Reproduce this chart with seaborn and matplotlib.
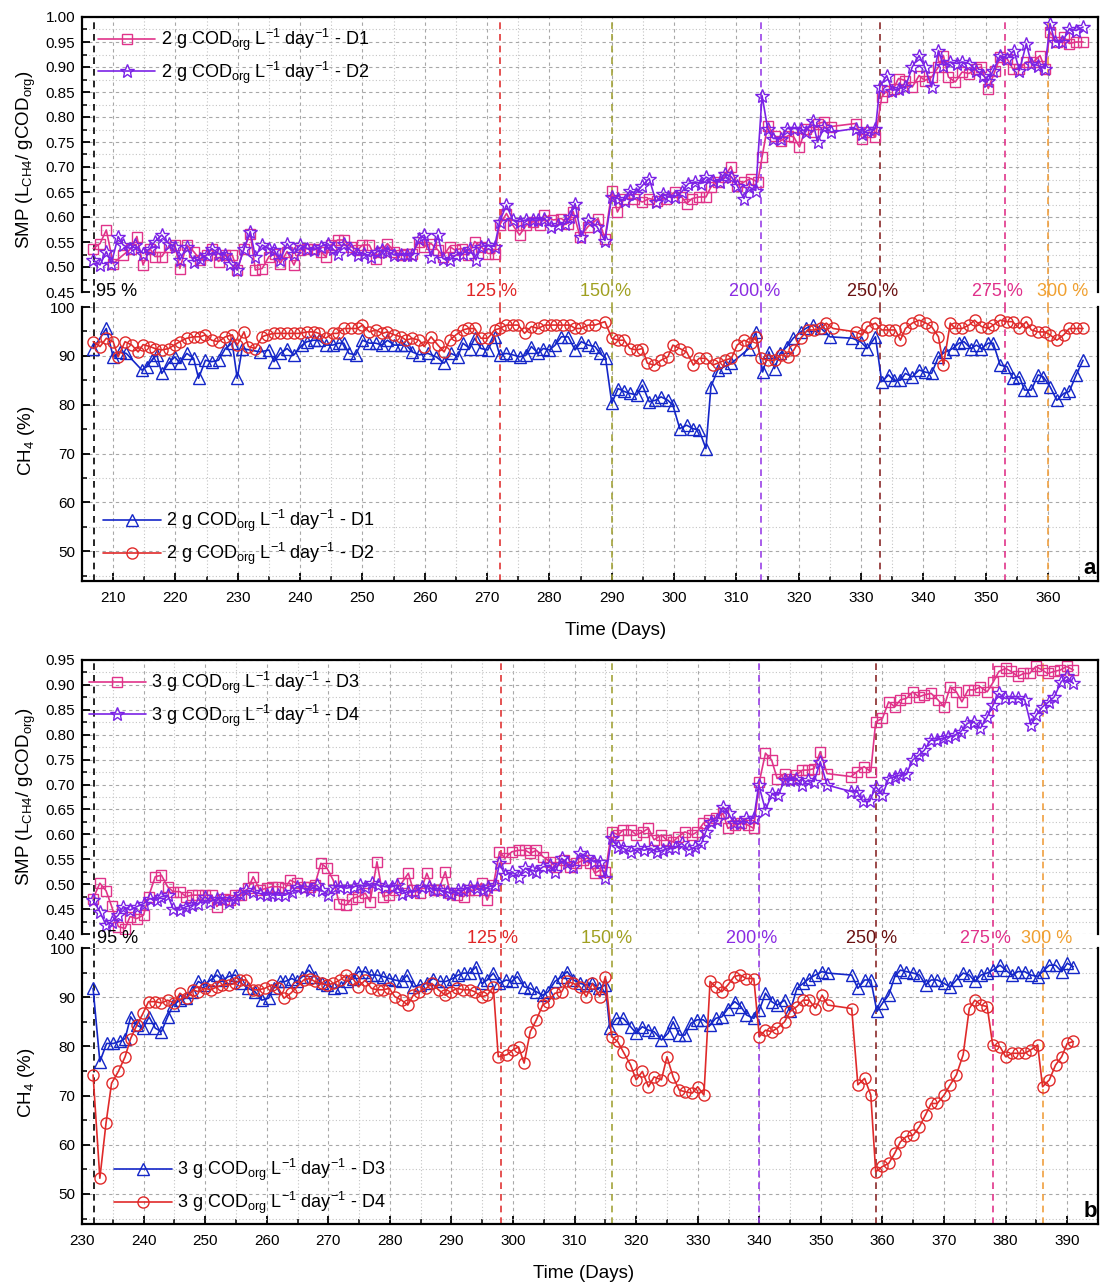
import numpy as np
import pandas as pd
import matplotlib
matplotlib.use('Agg')
import matplotlib.pyplot as plt
import matplotlib.transforms as mtransforms
from matplotlib.ticker import MultipleLocator, FormatStrFormatter
import seaborn as sns

# ---------------- DATA (day, value) ----------------
# Panel a - SMP
smp_a_d1 = [(206.8,.537),(207.9,.547),(208.9,.574),(210.0,.507),(211.6,.524),(212.9,.537),(213.8,.561),(214.8,.504),
 (215.9,.537),(216.7,.521),(217.8,.521),(218.9,.541),(219.9,.544),(220.7,.497),(221.8,.544),(222.9,.531),(224.0,.514),
 (225.0,.524),(225.8,.537),(226.9,.511),(228.0,.524),(229.1,.524),(229.9,.494),(231.0,.537),(232.0,.567),(232.8,.494),
 (233.9,.497),(235.0,.521),(236.0,.527),(236.8,.507),(237.9,.531),(239.0,.504),(240.0,.534),(241.1,.537),(242.2,.537),
 (243.3,.531),(244.1,.521),(244.9,.544),(246.0,.554),(247.0,.554),(248.1,.541),(249.2,.534),(250.0,.544),(251.1,.544),
 (252.1,.517),(253.0,.531),(254.0,.547),(255.1,.531),(256.2,.524),(257.0,.527),(258.0,.527),(259.1,.551),(259.9,.541),
 (261.0,.547),(262.1,.534),(262.9,.521),(264.0,.541),(264.8,.534),(265.9,.537),(267.0,.524),(268.0,.551),(269.0,.541),
 (270.1,.527),(271.2,.527),(272.0,.584),(273.1,.607),(274.1,.584),(275.2,.564),(276.3,.584),(277.4,.591),(278.4,.584),
 (279.2,.604),(280.6,.594),(281.9,.597),(283.0,.587),(283.8,.611),(284.9,.561),(286.2,.581),(287.8,.597),(288.9,.557),
 (290.0,.652),(290.9,.610),(292.0,.637),(293.5,.637),(294.9,.630),(296.0,.637),(297.3,.633),(298.7,.637),(300.1,.650),
 (301.2,.640),(302.0,.627),(302.9,.637),(304.0,.640),(305.1,.640),(305.9,.660),(307.0,.670),(308.1,.680),(309.1,.701),
 (310.1,.663),(311.2,.670),(312.3,.677),(313.4,.670),(314.1,.720),(315.0,.783),(316.1,.763),(317.2,.753),(318.3,.763),
 (319.2,.760),(320.1,.740),(321.1,.777),(322.2,.770),(323.0,.787),(324.1,.790),(325.2,.781),(329.1,.787),(330.2,.757),
 (331.3,.770),(332.3,.760),(333.3,.840),(334.1,.853),(335.2,.857),(336.0,.877),(337.1,.873),(338.2,.860),(339.3,.883),
 (340.2,.873),(341.3,.880),(342.4,.900),(343.2,.923),(344.0,.880),(345.1,.870),(346.2,.890),(347.3,.887),(348.5,.897),
 (349.3,.900),(350.4,.857),(351.5,.893),(352.3,.920),(353.4,.917),(354.3,.897),(355.4,.897),(356.5,.910),(357.6,.910),
 (358.7,.923),(359.5,.897),(360.3,.970),(361.4,.950),(362.5,.960),(363.4,.947),(364.5,.950),(365.6,.950)]

smp_a_d2 = [(206.8,.514),(207.9,.504),(208.9,.531),(209.7,.507),(210.8,.561),(211.6,.544),(212.7,.537),(213.5,.544),
 (214.8,.527),(215.9,.537),(216.7,.551),(217.8,.564),(218.9,.547),(219.9,.541),(220.7,.514),(221.8,.541),(222.9,.511),
 (224.0,.517),(225.0,.524),(225.8,.537),(226.9,.527),(228.0,.524),(228.8,.507),(229.9,.494),(231.0,.537),(232.0,.571),
 (232.8,.521),(233.9,.544),(235.0,.537),(235.8,.534),(236.8,.514),(237.9,.547),(239.0,.527),(240.0,.544),(241.1,.537),
 (242.2,.534),(243.3,.541),(244.4,.547),(245.2,.537),(246.0,.527),(247.0,.547),(248.1,.534),(249.2,.524),(250.3,.527),
 (251.3,.521),(252.4,.531),(253.2,.534),(254.0,.531),(255.1,.524),(256.2,.524),(257.2,.524),(258.0,.524),(259.1,.557),
 (259.9,.564),(261.0,.521),(262.1,.564),(262.9,.517),(264.0,.514),(265.0,.524),(266.1,.527),(267.2,.537),(268.2,.514),
 (269.0,.541),(270.1,.544),(271.2,.541),(272.0,.591),(273.1,.624),(274.1,.594),(275.2,.591),(276.3,.594),(277.4,.594),
 (278.2,.594),(279.2,.597),(280.3,.581),(281.4,.584),(282.5,.587),(283.3,.601),(284.1,.627),(285.1,.561),(286.2,.594),
 (287.6,.581),(288.9,.553),(290.0,.640),(291.0,.637),(292.1,.633),(292.9,.653),(293.8,.647),(294.9,.663),(296.0,.677),
 (297.1,.630),(298.2,.647),(299.0,.640),(300.1,.640),(301.2,.650),(302.3,.667),(303.4,.670),(304.3,.667),(305.1,.680),
 (306.2,.673),(307.3,.670),(308.1,.687),(309.2,.680),(310.1,.663),(311.2,.637),(312.0,.660),(313.1,.653),(314.1,.843),
 (315.0,.777),(315.9,.757),(317.2,.757),(318.1,.777),(319.2,.777),(320.3,.777),(321.1,.770),(322.2,.793),(323.0,.750),
 (324.1,.780),(325.2,.770),(329.1,.777),(330.2,.767),(331.0,.773),(332.3,.777),(333.0,.860),(334.1,.883),(335.0,.853),
 (336.0,.857),(337.1,.860),(338.2,.900),(339.3,.923),(340.2,.900),(341.3,.860),(342.4,.933),(343.2,.903),(344.3,.910),
 (345.4,.907),(346.2,.910),(347.3,.907),(348.5,.893),(349.6,.883),(350.4,.873),(351.2,.893),(352.3,.923),(353.4,.917),
 (354.5,.933),(355.4,.893),(356.5,.947),(357.3,.907),(358.4,.903),(359.5,.897),(360.3,.987),(361.1,.950),(362.3,.950),
 (363.4,.977),(364.5,.973),(365.6,.980)]

# Panel a - CH4
ch4_a_d1 = [(206.8,91.5),(208.9,95.6),(210.0,89.8),(211.1,90.8),(212.1,90.5),(214.6,87.1),(215.4,87.8),(216.2,89.1),
 (217.0,90.2),(217.8,86.4),(218.9,88.5),(219.9,89.8),(220.7,88.5),(221.8,90.5),(222.9,89.5),(223.7,85.4),(224.8,89.1),
 (225.8,88.8),(226.9,89.1),(228.0,91.5),(229.1,92.6),(229.9,85.4),(230.7,91.5),(233.6,90.8),(235.0,91.2),(235.8,88.8),
 (236.8,90.5),(237.9,91.5),(239.0,90.2),(240.3,92.2),(241.1,92.9),(242.2,93.2),(243.0,93.2),(244.1,92.2),(245.2,92.2),
 (246.2,92.6),(247.0,92.6),(247.8,90.5),(248.9,90.2),(250.0,93.2),(251.1,92.6),(252.1,92.6),(253.2,92.2),(254.0,93.2),
 (255.1,92.2),(256.2,92.2),(257.0,92.2),(258.0,90.8),(259.1,90.2),(260.5,90.5),(261.8,89.8),(263.1,88.5),(264.2,90.5),
 (265.3,89.8),(266.1,92.6),(267.2,91.5),(268.0,93.6),(269.0,91.5),(270.1,91.2),(271.2,93.9),(272.0,90.2),(273.1,90.5),
 (274.1,90.2),(275.2,89.8),(276.3,90.2),(277.1,91.9),(278.2,90.5),(279.0,91.5),(280.0,91.2),(280.9,92.2),(281.9,93.9),
 (283.0,93.9),(284.1,91.2),(285.1,92.9),(286.2,92.2),(287.3,91.9),(288.1,90.5),(289.0,89.5),(290.0,80.3),(291.0,83.3),
 (292.0,82.7),(292.9,82.3),(294.0,82.0),(294.9,84.0),(296.0,80.6),(297.0,80.9),(297.9,81.6),(299.0,80.9),(299.8,79.9),
 (300.9,75.1),(302.0,75.8),(303.0,75.1),(304.0,74.8),(305.1,71.0),(305.9,83.7),(307.0,87.1),(308.1,87.8),(309.2,88.5),
 (312.0,91.5),(313.1,94.9),(314.2,86.7),(315.2,90.8),(316.1,87.4),(317.0,90.5),(318.1,91.9),(319.1,93.6),(320.3,94.9),
 (321.1,95.6),(322.2,96.3),(323.6,95.6),(325.0,93.9),(328.6,93.6),(329.9,92.9),(331.0,91.5),(332.3,93.9),(333.3,84.7),
 (334.4,86.1),(335.2,85.0),(336.3,85.0),(337.1,86.4),(338.2,85.7),(339.3,87.1),(340.2,86.7),(341.3,86.4),(342.4,89.8),
 (343.5,90.8),(344.7,91.5),(345.7,92.6),(346.5,92.9),(347.6,91.5),(348.5,92.2),(349.3,91.5),(350.4,92.6),(351.2,92.6),
 (352.3,88.1),(353.4,87.8),(354.3,85.4),(355.4,85.7),(356.2,83.0),(357.3,83.0),(358.4,86.1),(359.2,85.7),(360.3,83.7),
 (361.4,80.9),(362.5,82.3),(363.4,82.7),(364.5,86.1),(365.6,89.1)]

ch4_a_d2 = [(206.8,92.9),(207.9,91.9),(208.9,93.6),(210.0,92.9),(210.8,89.8),(211.9,92.9),(213.0,92.2),(214.0,90.8),
 (214.8,92.3),(215.9,91.9),(216.7,91.5),(217.8,91.2),(218.9,91.5),(219.9,92.3),(220.7,92.9),(221.8,93.6),(222.9,93.9),
 (224.0,93.9),(224.8,94.3),(225.8,93.2),(226.9,92.9),(228.0,93.9),(229.1,94.3),(229.9,92.2),(231.0,94.9),(231.7,91.9),
 (232.8,91.5),(233.9,93.9),(234.7,94.3),(235.8,94.6),(236.8,94.6),(237.9,94.6),(239.0,94.6),(240.0,94.6),(241.1,94.9),
 (242.2,94.9),(243.0,94.6),(244.1,93.6),(245.2,94.6),(246.0,94.6),(247.0,95.6),(248.1,95.6),(249.2,95.6),(250.0,96.3),
 (251.1,94.9),(252.1,95.3),(253.2,94.6),(254.0,94.9),(255.1,94.3),(256.2,93.9),(257.0,93.2),(258.0,93.6),(259.1,93.2),
 (259.9,91.9),(261.0,93.9),(262.1,92.2),(263.1,90.8),(264.0,93.2),(265.0,94.3),(266.1,95.3),(267.0,95.6),(268.0,95.6),
 (269.0,93.6),(270.1,93.6),(271.2,95.3),(272.0,95.6),(273.1,96.3),(274.1,96.3),(275.0,96.3),(276.0,94.6),(277.1,96.0),
 (278.2,95.6),(279.2,96.3),(280.3,96.3),(281.1,96.3),(282.2,96.3),(283.3,96.3),(284.1,95.6),(285.1,95.6),(286.2,96.3),
 (287.3,96.3),(288.9,97.0),(290.0,93.6),(291.0,93.2),(292.0,93.2),(292.9,91.5),(294.0,91.2),(294.9,91.5),(295.7,88.5),
 (296.8,88.1),(297.9,89.1),(299.0,89.8),(299.8,92.2),(300.9,91.5),(302.0,90.8),(303.1,88.1),(304.0,89.5),(305.1,89.5),
 (306.2,88.1),(307.0,88.5),(308.1,89.1),(309.2,89.5),(310.1,92.2),(311.2,93.2),(312.3,92.6),(313.1,93.9),(313.9,89.5),
 (315.0,89.1),(316.1,89.1),(317.2,90.2),(318.3,89.8),(319.2,91.2),(320.3,93.6),(321.4,95.3),(322.5,95.3),(323.6,95.6),
 (324.4,96.7),(325.5,95.6),(329.1,94.9),(330.2,94.3),(331.0,96.0),(332.3,96.7),(333.3,95.3),(334.4,95.3),(335.5,95.3),
 (336.3,93.2),(337.1,95.6),(338.2,96.7),(339.3,97.3),(340.4,96.7),(341.3,96.0),(342.4,93.9),(343.2,88.1),(344.3,96.7),
 (345.1,95.6),(346.2,95.6),(347.3,96.3),(348.2,97.3),(349.3,96.0),(350.4,95.6),(351.2,96.3),(352.3,97.3),(353.4,97.0),
 (354.3,97.0),(355.4,95.6),(356.5,97.0),(357.3,95.3),(358.4,94.9),(359.5,94.9),(360.3,94.3),(361.4,93.2),(362.5,94.3),
 (363.4,95.6),(364.5,95.6),(365.6,95.6)]

# Panel b - SMP
smp_b_d3 = [(231.8,.471),(232.9,.502),(233.9,.487),(234.8,.456),(235.9,.415),(237.0,.411),(237.8,.435),(238.9,.431),
 (240.0,.438),(240.8,.475),(241.9,.515),(242.9,.518),(243.9,.495),(244.8,.485),(245.9,.485),(246.9,.475),(247.8,.478),
 (248.9,.478),(250.0,.478),(251.1,.478),(251.9,.455),(253.0,.471),(254.0,.468),(254.9,.478),(255.9,.478),(257.0,.492),
 (257.8,.515),(258.9,.488),(260.0,.492),(260.8,.495),(261.9,.495),(263.0,.492),(263.8,.508),(264.9,.502),(266.0,.495),
 (267.0,.495),(267.8,.498),(268.8,.542),(269.8,.532),(270.8,.508),(271.8,.461),(272.9,.458),(273.8,.471),(274.9,.475),
 (276.0,.482),(276.8,.465),(277.9,.545),(278.9,.475),(279.8,.478),(280.8,.488),(281.9,.502),(283.0,.522),(283.8,.488),
 (284.9,.482),(286.0,.522),(287.1,.488),(287.9,.488),(289.0,.525),(289.8,.482),(290.9,.478),(292.0,.475),(292.8,.488),
 (293.9,.488),(294.9,.502),(295.8,.468),(296.8,.498),(297.8,.565),(298.7,.552),(299.8,.565),(300.9,.568),(302.0,.568),
 (302.8,.562),(303.8,.568),(304.9,.555),(306.0,.545),(307.0,.535),(308.2,.548),(309.3,.535),(310.3,.542),(311.4,.548),
 (312.5,.542),(313.3,.522),(314.1,.528),(315.0,.525),(316.0,.605),(317.1,.599),(317.9,.609),(319.1,.609),(320.0,.599),
 (321.1,.605),(322.0,.612),(322.9,.589),(324.1,.599),(324.9,.589),(326.0,.585),(326.8,.595),(327.9,.605),(329.1,.599),
 (329.9,.605),(330.9,.622),(331.8,.629),(332.9,.632),(334.1,.642),(334.9,.612),(336.0,.619),(337.1,.622),(338.1,.619),
 (339.1,.612),(340.0,.706),(341.0,.763),(342.0,.749),(342.9,.712),(344.1,.722),(345.0,.712),(346.0,.719),(347.0,.729),
 (347.9,.729),(348.9,.732),(349.9,.766),(351.0,.722),(354.9,.716),(355.9,.726),(357.0,.736),(358.1,.726),(358.9,.826),
 (360.0,.833),(361.0,.866),(362.0,.856),(362.9,.870),(363.9,.873),(364.9,.886),(365.9,.876),(366.8,.880),(367.9,.883),
 (369.0,.870),(370.0,.856),(371.0,.896),(372.0,.886),(372.9,.866),(373.9,.890),(374.9,.890),(375.9,.896),(377.0,.886),
 (378.0,.906),(378.9,.927),(380.0,.933),(380.9,.927),(382.0,.917),(382.9,.923),(383.9,.923),(384.9,.937),(385.9,.930),
 (386.8,.923),(387.9,.927),(388.9,.930),(389.9,.937),(391.0,.930)]

smp_b_d4 = [(231.8,.468),(232.9,.445),(233.9,.418),(234.8,.425),(235.9,.438),(236.7,.455),(237.8,.448),(238.9,.455),
 (240.0,.461),(241.0,.471),(242.1,.468),(242.9,.475),(243.9,.478),(244.8,.451),(245.9,.448),(246.9,.455),(247.8,.458),
 (248.9,.461),(250.0,.475),(250.8,.465),(251.9,.471),(252.7,.471),(253.8,.465),(254.9,.471),(255.7,.481),(256.7,.488),
 (257.8,.485),(258.9,.481),(260.0,.478),(260.8,.481),(261.9,.478),(263.0,.478),(264.1,.485),(264.9,.495),(266.0,.492),
 (267.0,.488),(268.1,.498),(268.9,.488),(270.0,.478),(271.1,.495),(271.9,.495),(273.0,.492),(274.1,.495),(275.2,.498),
 (276.0,.495),(277.1,.502),(278.1,.498),(279.2,.495),(280.3,.495),(281.1,.498),(281.9,.481),(283.0,.485),(284.1,.485),
 (285.2,.495),(286.3,.495),(287.1,.488),(288.1,.488),(289.2,.485),(290.0,.481),(291.1,.488),(291.9,.488),(293.0,.495),
 (294.1,.492),(295.2,.488),(296.0,.495),(297.1,.498),(297.8,.542),(298.7,.518),(299.8,.525),(300.9,.515),(302.0,.532),
 (303.0,.528),(303.8,.525),(304.9,.535),(306.0,.538),(306.8,.525),(307.9,.552),(308.7,.542),(309.8,.535),(310.9,.562),
 (312.0,.555),(313.1,.545),(314.1,.545),(315.0,.512),(316.0,.592),(317.0,.575),(317.9,.572),(319.1,.565),(320.2,.572),
 (321.3,.568),(322.4,.572),(323.3,.565),(324.3,.568),(325.3,.572),(326.3,.572),(327.4,.582),(328.5,.568),(329.6,.575),
 (330.6,.582),(331.3,.605),(332.1,.625),(333.1,.629),(334.1,.655),(335.0,.642),(335.9,.622),(336.8,.622),(337.9,.632),
 (339.1,.632),(339.9,.699),(341.0,.649),(342.1,.682),(343.1,.679),(344.1,.709),(345.0,.709),(346.0,.712),(347.0,.699),
 (347.9,.709),(348.9,.706),(349.9,.746),(351.0,.699),(354.9,.686),(355.9,.686),(356.8,.666),(357.9,.666),(358.9,.696),
 (360.0,.679),(361.0,.712),(362.0,.716),(362.9,.719),(363.9,.722),(364.9,.749),(365.9,.759),(366.8,.769),(367.8,.789),
 (368.8,.789),(369.8,.793),(370.7,.796),(371.7,.799),(372.7,.806),(373.8,.823),(374.8,.826),(375.9,.813),(377.0,.836),
 (378.0,.860),(378.9,.883),(379.9,.873),(381.0,.873),(382.0,.873),(383.1,.870),(384.1,.820),(385.0,.840),(386.0,.856),
 (387.0,.866),(387.9,.876),(389.0,.906),(389.9,.917),(391.0,.903)]

# Panel b - CH4
ch4_b_d3 = [(231.8,91.8),(232.9,76.9),(234.0,80.6),(235.1,80.6),(236.1,81.0),(237.0,81.6),(237.9,86.0),(238.9,84.3),
 (239.9,83.7),(240.9,86.0),(241.9,83.7),(242.9,83.0),(243.9,86.0),(244.8,88.4),(245.9,89.4),(246.9,89.8),(247.8,91.1),
 (248.9,93.2),(249.8,92.5),(250.9,93.5),(251.9,94.5),(252.8,93.5),(253.8,94.2),(254.9,94.5),(255.9,92.8),(257.0,91.8),
 (258.1,91.1),(259.2,89.4),(260.3,89.8),(261.1,91.8),(262.2,93.2),(263.0,93.2),(264.1,93.8),(264.9,93.2),(265.8,94.2),
 (266.8,95.5),(267.8,94.2),(268.9,92.8),(269.8,92.5),(270.9,91.8),(272.0,92.1),(273.0,93.2),(274.0,93.8),(274.9,95.2),
 (276.0,95.2),(276.9,94.5),(277.9,94.5),(278.9,94.2),(279.9,93.8),(280.8,93.5),(281.9,93.2),(282.8,94.5),(283.8,92.1),
 (284.9,92.5),(286.0,92.8),(287.0,93.8),(288.1,93.2),(289.1,93.2),(290.2,93.8),(291.1,94.5),(292.0,94.9),(293.0,94.9),
 (294.0,96.2),(294.9,92.8),(295.8,93.5),(296.8,94.9),(297.8,92.8),(298.9,93.5),(299.8,93.2),(300.7,94.2),(301.8,92.1),
 (302.8,91.8),(303.8,91.1),(304.8,90.4),(305.7,91.1),(306.8,93.2),(307.9,94.2),(308.8,95.2),(309.8,93.5),(310.9,92.8),
 (311.9,92.5),(312.9,92.8),(313.9,91.8),(315.0,92.5),(315.7,83.7),(316.8,85.7),(317.9,85.7),(319.1,84.0),(320.0,82.7),
 (321.0,84.0),(322.0,83.3),(322.9,83.0),(324.1,81.3),(325.2,82.7),(326.0,85.0),(327.0,82.3),(327.9,82.3),(328.9,84.7),
 (329.9,85.4),(330.9,85.4),(332.0,84.3),(332.9,85.7),(333.9,86.0),(334.9,87.7),(336.0,89.1),(337.0,88.1),(337.9,86.4),
 (339.1,85.7),(340.0,87.4),(341.0,90.8),(342.0,89.1),(342.9,88.4),(344.1,89.4),(345.0,87.1),(346.1,91.8),(347.1,92.8),
 (348.1,93.8),(349.1,94.5),(350.2,95.2),(351.1,94.9),(355.0,94.5),(356.0,91.8),(357.1,93.5),(358.1,93.5),(359.1,87.1),
 (360.0,88.8),(361.0,90.4),(362.0,94.2),(362.9,95.5),(363.9,95.2),(365.0,94.9),(366.0,94.5),(367.0,92.5),(367.9,93.5),
 (368.9,93.5),(370.0,92.8),(371.0,92.1),(372.0,93.5),(373.1,94.9),(374.1,94.5),(375.0,93.2),(376.0,94.5),(377.0,94.9),
 (377.9,95.5),(379.1,96.5),(380.0,95.5),(381.0,94.5),(382.0,95.2),(383.1,95.2),(384.1,94.5),(385.2,94.2),(386.0,95.2),
 (387.1,96.5),(388.1,96.5),(389.1,95.2),(390.0,96.9),(391.0,96.2)]

ch4_b_d4 = [(231.8,74.2),(232.9,53.2),(233.9,64.4),(234.8,72.5),(235.9,74.9),(237.0,77.9),(237.9,81.6),(238.9,84.3),
 (239.9,86.7),(240.8,89.1),(241.9,89.1),(242.9,88.8),(243.9,89.4),(245.0,88.8),(245.9,90.8),(247.0,89.8),(248.0,91.5),
 (248.9,91.1),(250.0,91.8),(250.9,91.5),(251.9,92.1),(252.8,92.5),(253.8,92.5),(254.9,92.8),(255.7,93.5),(256.7,93.5),
 (257.8,91.5),(258.6,91.5),(259.7,91.8),(260.8,92.5),(261.9,91.8),(262.8,89.8),(263.9,90.8),(264.9,92.1),(266.0,93.5),
 (267.0,93.8),(267.8,93.2),(268.9,92.8),(269.8,92.5),(270.8,92.8),(271.9,93.5),(272.9,94.5),(274.0,93.8),(274.9,92.1),
 (276.0,93.5),(277.0,91.8),(278.0,91.5),(278.9,91.5),(279.9,91.8),(280.8,90.1),(281.9,89.4),(282.9,88.4),(283.8,90.4),
 (284.8,91.1),(285.9,91.8),(286.8,92.8),(287.9,91.5),(289.0,90.4),(289.9,91.1),(290.9,91.8),(291.9,91.5),(293.0,91.5),
 (293.8,91.1),(294.9,90.1),(295.8,90.4),(296.8,92.1),(297.6,77.9),(299.0,78.3),(300.0,79.3),(300.9,79.9),(301.8,76.6),
 (302.8,83.0),(303.8,85.4),(304.8,88.4),(305.7,89.1),(306.8,90.8),(307.9,91.1),(308.8,93.2),(309.8,92.8),(310.9,92.1),
 (311.9,90.1),(312.9,92.8),(314.1,90.1),(315.0,94.2),(316.0,82.0),(317.0,81.0),(317.9,78.9),(319.1,76.2),(320.0,73.2),
 (321.0,74.9),(322.0,71.8),(322.9,73.8),(324.1,73.2),(325.0,77.9),(326.0,73.8),(327.0,71.1),(327.9,70.8),(329.1,70.5),
 (330.0,71.8),(331.0,70.1),(332.0,93.2),(332.9,92.1),(333.9,91.1),(334.9,92.5),(335.9,94.2),(336.9,94.5),(337.9,93.8),
 (339.1,93.8),(340.0,82.0),(341.0,83.3),(342.0,83.0),(342.9,83.7),(344.1,85.0),(345.0,87.1),(346.1,88.1),(347.1,89.4),
 (348.1,89.4),(349.1,87.7),(350.2,90.4),(351.1,88.4),(355.0,87.7),(356.0,72.2),(357.1,73.5),(358.1,70.1),(358.9,54.5),
 (360.0,55.6),(361.0,56.2),(362.0,58.3),(362.9,60.6),(363.9,61.7),(365.0,62.0),(366.0,63.7),(367.0,66.1),(367.9,68.4),
 (368.9,68.4),(370.0,70.1),(371.0,72.2),(372.0,74.2),(373.1,78.3),(374.1,87.7),(375.0,89.4),(376.0,88.4),(377.0,88.1),
 (377.9,80.3),(379.1,79.9),(380.0,77.9),(381.0,78.6),(382.0,78.6),(383.1,78.6),(384.1,79.3),(385.2,80.3),(386.0,71.8),
 (387.1,73.2),(388.1,76.2),(389.1,77.9),(390.0,80.6),(391.0,81.0)]

# Loading-change markers
step_labels = ['95 %', '125 %', '150 %', '200 %', '250 %', '275 %', '300 %']
steps_a = [207, 272, 290, 314, 333, 353, 360]
steps_b = [232, 298, 316, 340, 359, 378, 386]

legend_a_smp = [r'2 g COD$_{org}$ L$^{-1}$ day$^{-1}$ - D1', r'2 g COD$_{org}$ L$^{-1}$ day$^{-1}$ - D2']
legend_a_ch4 = [r'2 g COD$_{org}$ L$^{-1}$ day$^{-1}$ - D1', r'2 g COD$_{org}$ L$^{-1}$ day$^{-1}$ - D2']
legend_b_smp = [r'3 g COD$_{org}$ L$^{-1}$ day$^{-1}$ - D3', r'3 g COD$_{org}$ L$^{-1}$ day$^{-1}$ - D4']
legend_b_ch4 = [r'3 g COD$_{org}$ L$^{-1}$ day$^{-1}$ - D3', r'3 g COD$_{org}$ L$^{-1}$ day$^{-1}$ - D4']

# ---------------- STYLE ----------------
sns.set_theme(style='white')
plt.rcParams['font.family'] = ['Liberation Sans', 'DejaVu Sans']
plt.rcParams['mathtext.fontset'] = 'custom'
plt.rcParams['mathtext.rm'] = 'Liberation Sans'
plt.rcParams['mathtext.it'] = 'Liberation Sans:italic'
plt.rcParams['mathtext.bf'] = 'Liberation Sans:bold'
plt.rcParams['mathtext.default'] = 'rm'
plt.rcParams['text.color'] = 'black'
plt.rcParams['axes.labelcolor'] = 'black'
plt.rcParams['xtick.color'] = 'black'
plt.rcParams['ytick.color'] = 'black'

step_line_colors = ['#000000', '#e03535', '#a3a33a', '#9a40e8', '#8a2a2a', '#e0358a', '#f0a040']
step_text_colors = ['#000000', '#e02525', '#a0a020', '#8a2be2', '#6a1010', '#e0308a', '#f0a030']
off_a = [0.3, -1.3, -1.0, -1.1, -1.1, -1.1, 2.3]
off_b = [0.5, -1.3, -0.8, -1.3, -0.8, -1.3, 0.6]

C_SQ = '#e0338a'
C_ST = '#7b22e6'
C_TR = '#1426c8'
C_CI = '#e02a2a'

W, H = 1116, 1283
fig = plt.figure(figsize=(W / 100, H / 100), dpi=100)


def ax_rect(top_px, bot_px, left_px=82, right_px=1098):
    return [left_px / W, 1 - bot_px / H, (right_px - left_px) / W, (bot_px - top_px) / H]


ax_a1 = fig.add_axes(ax_rect(17, 292))
ax_a2 = fig.add_axes(ax_rect(307, 581))
ax_b1 = fig.add_axes(ax_rect(660, 934))
ax_b2 = fig.add_axes(ax_rect(948, 1224))


def series(ax, pts, color, marker, ms, label):
    df = pd.DataFrame(pts, columns=['day', 'val'])
    sns.lineplot(data=df, x='day', y='val', ax=ax, color=color, marker=marker, markersize=ms,
                 markerfacecolor='none', markeredgecolor=color, markeredgewidth=1.0,
                 linewidth=1.2, label=label, estimator=None, sort=True)


def style(ax, is_top, xlim, ylim, ymaj, ymin, fmt):
    ax.set_xlim(*xlim)
    ax.set_ylim(*ylim)
    ax.xaxis.set_major_locator(MultipleLocator(10))
    ax.xaxis.set_minor_locator(MultipleLocator(5))
    ax.yaxis.set_major_locator(MultipleLocator(ymaj))
    ax.yaxis.set_minor_locator(MultipleLocator(ymin))
    ax.yaxis.set_major_formatter(FormatStrFormatter(fmt))
    ax.grid(which='major', linestyle=(0, (3, 3)), color='#a8a8a8', linewidth=0.8)
    ax.grid(which='minor', linestyle=(0, (1, 2)), color='#c4c4c4', linewidth=0.8)
    ax.set_axisbelow(True)
    ax.tick_params(which='both', direction='in', left=True, right=False, top=False,
                   bottom=not is_top, labelbottom=not is_top, colors='black')
    ax.tick_params(which='major', length=6, width=1.3, labelsize=11, pad=5)
    ax.tick_params(which='minor', length=3.5, width=1.1)
    ax.tick_params(axis='x', which='major', pad=7)
    for s in ax.spines.values():
        s.set_color('black')
        s.set_linewidth(1.6)
    if is_top:
        ax.spines['bottom'].set_visible(False)
    else:
        ax.spines['top'].set_visible(False)
    ax.set_xlabel('')
    ax.set_ylabel('')


def steps(ax_top, ax_bot, xs, offs, ytext):
    for x, c in zip(xs, step_line_colors):
        ax_top.axvline(x, ymin=-0.06, ymax=1, color=c, linestyle=(0, (4, 3)), linewidth=1.2,
                       clip_on=False, zorder=1.5)
        ax_bot.axvline(x, color=c, linestyle=(0, (4, 3)), linewidth=1.2, zorder=1.5)
    tr = mtransforms.blended_transform_factory(ax_top.transData, ax_top.transAxes)
    for i, (x, lab, tc, o) in enumerate(zip(xs, step_labels, step_text_colors, offs)):
        ha = 'left' if i == 0 else 'center'
        ax_top.text(x + o, ytext, lab, transform=tr, ha=ha, va='center', color=tc,
                    fontsize=13, clip_on=False, zorder=5)


leg_kw = dict(frameon=False, fontsize=13, handlelength=3.2, handletextpad=0.28,
              labelspacing=0.35, borderaxespad=0.3, labelcolor='black')
YL = 13.5

# ---------------- Panel a ----------------
series(ax_a1, smp_a_d1, C_SQ, 's', 7, legend_a_smp[0])
series(ax_a1, smp_a_d2, C_ST, '*', 10, legend_a_smp[1])
style(ax_a1, True, (205, 368), (0.45, 1.00), 0.05, 0.025, '%.2f')
ax_a1.legend(loc='upper left', bbox_to_anchor=(0.003, 1.01), **leg_kw)

series(ax_a2, ch4_a_d1, C_TR, '^', 8.5, legend_a_ch4[0])
series(ax_a2, ch4_a_d2, C_CI, 'o', 8, legend_a_ch4[1])
style(ax_a2, False, (205, 368), (43.9, 100), 10, 5, '%d')
ax_a2.legend(loc='lower left', bbox_to_anchor=(0.008, 0.005), **leg_kw)

steps(ax_a1, ax_a2, steps_a, off_a, 0.0)

ax_a1.set_ylabel(r'SMP (L$_{CH4}$/ gCOD$_{org}$)', fontsize=YL)
ax_a1.yaxis.set_label_coords(-0.043, 0.48)
ax_a2.set_ylabel(r'CH$_4$ (%)', fontsize=YL)
ax_a2.yaxis.set_label_coords(-0.044, 0.51)
ax_a2.set_xlabel('Time (Days)', fontsize=13.5)
ax_a2.xaxis.set_label_coords(0.525, -0.15)
ax_a2.text(0.992, 0.045, 'a', transform=ax_a2.transAxes, ha='center', va='center',
           fontsize=16, fontweight='bold')

# ---------------- Panel b ----------------
series(ax_b1, smp_b_d3, C_SQ, 's', 7, legend_b_smp[0])
series(ax_b1, smp_b_d4, C_ST, '*', 10, legend_b_smp[1])
style(ax_b1, True, (230, 395), (0.40, 0.95), 0.05, 0.025, '%.2f')
ax_b1.legend(loc='upper left', bbox_to_anchor=(-0.006, 1.01), **leg_kw)

series(ax_b2, ch4_b_d3, C_TR, '^', 8.5, legend_b_ch4[0])
series(ax_b2, ch4_b_d4, C_CI, 'o', 8, legend_b_ch4[1])
style(ax_b2, False, (230, 395), (43.9, 100), 10, 5, '%d')
ax_b2.legend(loc='lower left', bbox_to_anchor=(0.019, -0.017), **leg_kw)

steps(ax_b1, ax_b2, steps_b, off_b, -0.015)

ax_b1.set_ylabel(r'SMP (L$_{CH4}$/ gCOD$_{org}$)', fontsize=YL)
ax_b1.yaxis.set_label_coords(-0.043, 0.5)
ax_b2.set_ylabel(r'CH$_4$ (%)', fontsize=YL)
ax_b2.yaxis.set_label_coords(-0.044, 0.51)
ax_b2.set_xlabel('Time (Days)', fontsize=13.5)
ax_b2.xaxis.set_label_coords(0.494, -0.149)
ax_b2.text(0.992, 0.045, 'b', transform=ax_b2.transAxes, ha='center', va='center',
           fontsize=16, fontweight='bold')

fig.savefig('out.png', dpi=100)
